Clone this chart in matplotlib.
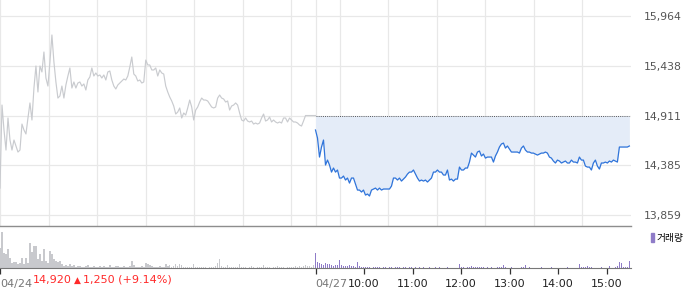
import numpy as np
import matplotlib
matplotlib.use("Agg")
import matplotlib.pyplot as plt
from matplotlib.patches import Patch

plt.rcParams['font.family'] = ['DejaVu Sans', 'Noto Sans CJK KR']

# intraday prices, one sample about every 2.5 minutes
day1_price = [
    14144, 15022, 14758, 14546, 14885, 14652, 14546, 14652, 14589, 14525,
    14546, 14821, 14758, 14716, 14885, 15044, 14864, 15202, 15435, 15160,
    15435, 15372, 15583, 15308, 15223, 15477, 15763, 15477, 15266, 15096,
    15118, 15223, 15096, 15234, 15329, 15414, 15202, 15266, 15202, 15255,
    15266, 15223, 15245, 15181, 15287, 15319, 15414, 15329, 15361, 15329,
    15340, 15308, 15340, 15287, 15372, 15382, 15287, 15223, 15192, 15234,
    15255, 15276, 15297, 15287, 15329, 15424, 15530, 15350, 15329, 15276,
    15287, 15255, 15266, 15498, 15446, 15446, 15393, 15393, 15414, 15329,
    15393, 15361, 15350, 15223, 15160, 15107, 15065, 15012, 14927, 14948,
    14991, 14885, 14938, 14916, 14991, 15075, 15001, 14864, 14969, 15001,
    15054, 15096, 15075, 15075, 15065, 15033, 15001, 14991, 15001, 15096,
    15128, 15096, 15086, 15054, 15065, 14969, 15012, 15022, 15044, 15022,
    14938, 14864, 14853, 14885, 14853, 14843, 14853, 14821, 14832, 14821,
    14832, 14885, 14927, 14853, 14864, 14895, 14843, 14864, 14843, 14832,
    14843, 14832, 14885, 14885, 14843, 14885, 14864, 14843, 14843, 14832,
    14811, 14800, 14853, 14911, 14911, 14911, 14911, 14911, 14911,
]
day2_price = [
    14758, 14673, 14472, 14578, 14652, 14388, 14440, 14388, 14313, 14356,
    14313, 14335, 14250, 14250, 14271, 14229, 14250, 14197, 14250, 14250,
    14187, 14123, 14123, 14102, 14123, 14070, 14081, 14060, 14123, 14134,
    14144, 14123, 14144, 14123, 14134, 14134, 14134, 14134, 14165, 14250,
    14250, 14229, 14250, 14218, 14239, 14261, 14292, 14313, 14313, 14335,
    14292, 14250, 14218, 14229, 14218, 14229, 14208, 14229, 14250, 14313,
    14313, 14335, 14313, 14313, 14282, 14282, 14335, 14229, 14239, 14218,
    14239, 14239, 14366, 14335, 14335, 14356, 14356, 14419, 14514, 14493,
    14472, 14525, 14536, 14483, 14504, 14461, 14472, 14472, 14472, 14419,
    14483, 14525, 14578, 14610, 14620, 14567, 14589, 14557, 14525, 14525,
    14525, 14525, 14514, 14567, 14589, 14546, 14525, 14525, 14514, 14514,
    14504, 14493, 14504, 14514, 14514, 14525, 14514, 14472, 14461, 14430,
    14409, 14440, 14430, 14409, 14419, 14430, 14409, 14409, 14440, 14419,
    14419, 14409, 14472, 14440, 14440, 14377, 14366, 14366, 14335, 14409,
    14440, 14377, 14345, 14409, 14409, 14419, 14409, 14430, 14419, 14440,
    14430, 14419, 14578, 14578, 14578, 14578, 14578, 14589,
]

# volume, thousand shares
day1_vol = [
    20, 36, 15, 14, 19, 10, 5, 6, 6, 4, 5, 10, 4, 10, 5, 25, 16, 22, 22, 9,
    14, 7, 19, 7, 5, 17, 14, 9, 7, 6, 7, 4, 2, 3, 2, 4, 2, 3, 1, 2,
    2, 1, 1, 2, 3, 1, 1, 2, 1, 1, 2, 1, 2, 1, 1, 3, 1, 1, 2, 2,
    1, 1, 2, 1, 1, 2, 7, 3, 1, 1, 1, 2, 1, 5, 4, 3, 2, 1, 1, 1,
    2, 1, 1, 4, 2, 3, 1, 2, 4, 2, 4, 3, 1, 1, 1, 1, 1, 4, 1, 1,
    1, 1, 1, 1, 0, 1, 1, 1, 2, 5, 9, 2, 1, 1, 3, 1, 1, 1, 1, 1,
    4, 1, 1, 1, 0, 1, 2, 1, 0, 1, 1, 1, 3, 1, 1, 1, 0, 1, 1, 2,
    1, 1, 1, 0, 1, 1, 1, 1, 2, 1, 2, 1, 2, 3, 2, 2, 1, 3, 9,
]
day2_vol = [
    15, 6, 5, 4, 3, 5, 4, 4, 3, 2, 3, 3, 8, 3, 2, 2, 2, 3, 2, 2,
    1, 6, 2, 1, 1, 1, 1, 1, 0, 1, 1, 1, 1, 0, 1, 1, 0, 1, 1, 0,
    1, 1, 1, 0, 1, 1, 0, 1, 1, 0, 1, 0, 1, 0, 1, 0, 0, 1, 0, 0,
    1, 0, 1, 0, 0, 0, 1, 0, 0, 0, 0, 0, 4, 1, 1, 0, 1, 1, 2, 1,
    1, 1, 1, 1, 1, 0, 1, 0, 1, 0, 0, 1, 1, 1, 3, 1, 0, 0, 1, 0,
    0, 0, 0, 1, 1, 3, 0, 1, 0, 0, 0, 0, 0, 1, 0, 0, 0, 0, 1, 0,
    0, 0, 0, 0, 0, 0, 1, 0, 0, 0, 0, 0, 4, 1, 1, 1, 2, 1, 1, 0,
    0, 0, 0, 1, 0, 0, 0, 2, 0, 0, 1, 2, 6, 5, 1, 1, 1, 7,
]

price_ticks = [13859, 14385, 14911, 15438, 15964]
base_price = 14911
hour_labels = ["10:00", "11:00", "12:00", "13:00", "14:00", "15:00"]
date_labels = ["04/24", "04/27"]
last_price = "14,920"
change_text = "1,250 (+9.14%)"

# minutes from 04/24 09:00, 390 minutes per session
t1 = np.linspace(0, 390, len(day1_price))
t2 = 390 + np.linspace(0, 388, len(day2_price))

GRID = "#e8e8e8"
fig = plt.figure(figsize=(7.0, 2.89), dpi=100)
ax = fig.add_axes([0, 0.2197, 631 / 700, 0.7803])
axv = fig.add_axes([0, 0.0716, 631 / 700, 0.1429])

ax.set_xlim(0, 780)
ax.set_ylim(13748, 16133)
for m in range(0, 780, 60):
    ax.axvline(m, color=GRID, lw=0.9, zorder=0)
ax.axvline(390, color=GRID, lw=0.9, zorder=0)
for p in price_ticks:
    ax.axhline(p, color=GRID, lw=0.9, zorder=0)

ax.plot(t1, day1_price, color="#c9cbcf", lw=0.85, zorder=2)
ax.fill_between(t2, day2_price, base_price, color="#e4ecf8", lw=0, zorder=1)
ax.plot([390, 780 - 2], [base_price, base_price], color="#555555", lw=0.7, ls=(0, (1, 1.2)), zorder=3)
ax.plot(t2, day2_price, color="#2f74da", lw=0.9, zorder=4)

ax.set_yticks(price_ticks)
ax.set_yticklabels([f"{p:,}" for p in price_ticks])
ax.yaxis.tick_right()
ax.tick_params(axis="y", length=0, pad=9, labelsize=7.8, labelcolor="#555555")
ax.set_xticks([])
for s in ["top", "left", "right"]:
    ax.spines[s].set_visible(False)
ax.spines["bottom"].set_color("#888888")
ax.spines["bottom"].set_linewidth(1.0)

# volume panel
axv.set_xlim(0, 780)
axv.set_ylim(0, 41)
axv.bar(t1, day1_vol, width=1.9, color="#c8c9cd", lw=0, align="center")
axv.bar(t2, day2_vol, width=1.9, color="#8f7cc8", lw=0, align="center")
for s in ["left", "right"]:
    axv.spines[s].set_visible(False)
axv.spines["top"].set_color(GRID)
axv.spines["bottom"].set_color("#777777")
axv.set_yticks([])

tick_pos = [0, 390] + [390 + 60 * (i + 1) for i in range(len(hour_labels))]
axv.set_xticks(tick_pos)
axv.set_xticklabels(date_labels + hour_labels)
axv.tick_params(axis="x", length=4, width=0.9, color="#333333", pad=4, labelsize=8, labelcolor="#222222")
for i, lab in enumerate(axv.get_xticklabels()):
    if i < 2:
        lab.set_ha("left")
        lab.set_color("#777777")

# last price / change next to the first date
ty = 0.022
fig.text(33 / 700, ty, last_price, color="#ff2a2a", fontsize=8)
fig.text(74 / 700, ty, "\u25b2", color="#ff2a2a", fontsize=6.5)
fig.text(83 / 700, ty, change_text, color="#ff2a2a", fontsize=8)

axv.legend(handles=[Patch(color="#8f7cc8")], labels=["거래량"], loc="upper left",
           bbox_to_anchor=(651 / 700, 0.195), bbox_transform=fig.transFigure,
           frameon=False, handlelength=0.3, handleheight=1.1, handletextpad=0.3,
           borderpad=0, borderaxespad=0,
           prop={"family": "Noto Sans CJK KR", "size": 7})

fig.savefig("out.png", dpi=100)
